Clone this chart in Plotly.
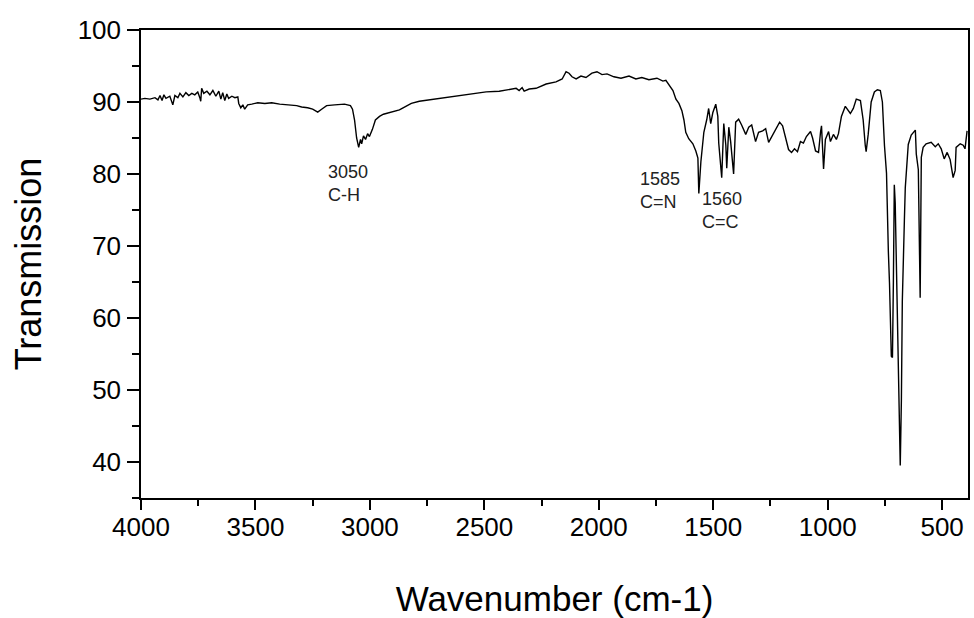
import plotly.graph_objects as go

wavenumber = [
    4000, 3983, 3961, 3939, 3926, 3917, 3908, 3900, 3891, 3874, 3861, 3852, 3839, 3830, 3817, 3804,
    3791, 3778, 3765, 3752, 3743, 3739, 3735, 3726, 3712, 3699, 3686, 3673, 3660, 3651, 3643, 3634,
    3625, 3617, 3603, 3590, 3577, 3573, 3564, 3555, 3547, 3534, 3516, 3490, 3459, 3429, 3394, 3351,
    3320, 3298, 3272, 3250, 3228, 3211, 3189, 3154, 3111, 3085, 3076, 3067, 3058, 3049, 3041, 3036,
    3028, 3019, 3010, 3002, 2989, 2976, 2958, 2941, 2915, 2893, 2871, 2849, 2819, 2784, 2740, 2697,
    2653, 2609, 2579, 2544, 2492, 2435, 2378, 2361, 2348, 2335, 2326, 2304, 2274, 2230, 2187, 2160,
    2143, 2130, 2117, 2099, 2078, 2056, 2030, 2008, 1986, 1964, 1934, 1903, 1868, 1838, 1812, 1781,
    1746, 1720, 1707, 1694, 1676, 1663, 1650, 1637, 1628, 1620, 1607, 1589, 1576, 1567, 1563, 1554,
    1541, 1528, 1520, 1511, 1502, 1489, 1480, 1476, 1463, 1454, 1445, 1441, 1432, 1424, 1415, 1411,
    1402, 1389, 1376, 1358, 1345, 1332, 1315, 1302, 1284, 1271, 1258, 1245, 1228, 1210, 1197, 1184,
    1171, 1158, 1145, 1132, 1119, 1106, 1093, 1075, 1066, 1053, 1040, 1031, 1027, 1018, 1010, 996,
    988, 975, 962, 953, 940, 923, 910, 901, 888, 875, 857, 845, 836, 832, 823, 810,
    796, 783, 770, 761, 752, 743, 735, 730, 722, 717, 713, 709, 705, 700, 696, 692,
    687, 683, 678, 674, 665, 661, 648, 635, 617, 613, 604, 600, 596, 591, 583, 570,
    548, 530, 517, 504, 491, 478, 465, 452, 443, 439, 421, 408, 400, 391,
]

transmission = [
    90.4, 90.5, 90.4, 90.6, 90.3, 90.9, 90.2, 91.0, 90.5, 90.8, 89.6, 90.9, 90.6, 91.2, 90.7, 91.3,
    90.9, 91.2, 91.0, 91.4, 90.6, 90.1, 91.9, 91.2, 91.5, 91.0, 91.6, 90.8, 91.5, 90.4, 91.3, 90.2,
    91.1, 90.5, 90.8, 90.6, 90.7, 89.8, 89.2, 89.6, 89.0, 89.6, 89.7, 89.9, 89.8, 89.9, 89.7, 89.6,
    89.5, 89.3, 89.2, 89.0, 88.6, 89.0, 89.5, 89.6, 89.7, 89.5, 89.0, 87.5, 85.0, 83.7, 84.8, 84.2,
    85.3, 84.8, 85.6, 85.2, 86.2, 87.5, 88.0, 88.3, 88.5, 88.7, 88.9, 89.3, 89.8, 90.1, 90.3, 90.4,
    90.6, 90.8, 91.0, 91.1, 91.4, 91.5, 91.8, 91.9, 91.6, 92.0, 91.5, 91.8, 91.9, 92.5, 92.8, 93.2,
    94.2, 94.0, 93.5, 93.2, 93.6, 93.4, 94.0, 94.2, 93.8, 93.9, 93.5, 93.3, 93.6, 93.2, 93.4, 93.1,
    93.3, 92.9, 93.0, 92.4, 91.6, 90.4, 89.8, 88.8, 87.5, 85.8, 84.9, 84.2, 83.2, 82.2, 77.3, 81.7,
    85.8, 87.6, 89.1, 87.0, 88.5, 89.7, 88.0, 84.3, 79.5, 87.0, 84.0, 80.8, 86.5, 84.5, 82.0, 80.0,
    87.2, 87.6, 86.8, 85.5, 86.5, 86.8, 84.5, 85.8, 86.0, 86.3, 84.4, 85.2, 86.2, 87.2, 86.7, 85.2,
    83.4, 83.0, 83.5, 83.1, 84.5, 84.3, 85.2, 85.9, 85.0, 83.2, 83.0, 85.9, 86.7, 80.7, 84.8, 85.9,
    84.5, 85.5, 84.8, 85.6, 88.0, 89.4, 88.8, 88.4, 89.1, 90.4, 90.2, 87.5, 84.0, 83.1, 85.5, 90.0,
    91.4, 91.7, 91.6, 90.0, 84.0, 80.1, 69.3, 64.9, 54.7, 54.5, 65.0, 78.5, 76.0, 67.0, 61.0, 50.0,
    45.0, 39.5, 48.6, 62.3, 73.5, 78.1, 84.1, 85.4, 86.1, 82.8, 80.6, 70.0, 62.8, 82.3, 83.7, 84.2,
    84.4, 83.8, 84.2, 83.5, 82.1, 83.0, 82.0, 79.5, 80.5, 83.7, 84.2, 84.0, 83.5, 86.0,
]

x_ticks = [4000, 3500, 3000, 2500, 2000, 1500, 1000, 500]
y_ticks = [40, 50, 60, 70, 80, 90, 100]

peak_labels = ["3050<br>C-H", "1585<br>C=N", "1560<br>C=C"]
peak_label_x = [3190, 1830, 1560]
peak_label_y = [78.7, 77.7, 74.9]

FONT = "Arial, Liberation Sans, sans-serif"

fig = go.Figure()
fig.add_trace(go.Scatter(
    x=wavenumber, y=transmission, mode="lines",
    line=dict(color="black", width=1.4), showlegend=False,
))

for txt, xv, yv in zip(peak_labels, peak_label_x, peak_label_y):
    fig.add_annotation(
        x=xv, y=yv, text=txt, showarrow=False, xanchor="left", yanchor="middle",
        align="left", font=dict(family=FONT, size=18, color="#222222"),
    )

axis_common = dict(
    showline=True, linecolor="black", linewidth=1.5, mirror=True,
    ticks="outside", tickwidth=1.5, tickcolor="black",
    showgrid=False, zeroline=False,
    tickfont=dict(family=FONT, size=26, color="black"),
)

fig.update_xaxes(
    range=[4000, 387], tickvals=x_ticks, ticklen=10, ticklabelstandoff=-5,
    minor=dict(dtick=250, ticks="outside", ticklen=6, tickwidth=1.5, tickcolor="black"),
    title=dict(text="Wavenumber (cm-1)", font=dict(family=FONT, size=35, color="black"), standoff=46),
    **axis_common,
)
fig.update_yaxes(
    range=[35, 100], tickvals=y_ticks, ticklen=12, ticklabelstandoff=1,
    minor=dict(dtick=5, ticks="outside", ticklen=7, tickwidth=1.5, tickcolor="black"),
    title=dict(text="Transmission", font=dict(family=FONT, size=36, color="black"), standoff=25),
    **axis_common,
)

fig.update_layout(
    width=974, height=618,
    margin=dict(l=141, r=4, t=30, b=120),
    paper_bgcolor="white", plot_bgcolor="white",
)

fig.write_html("out.html")
